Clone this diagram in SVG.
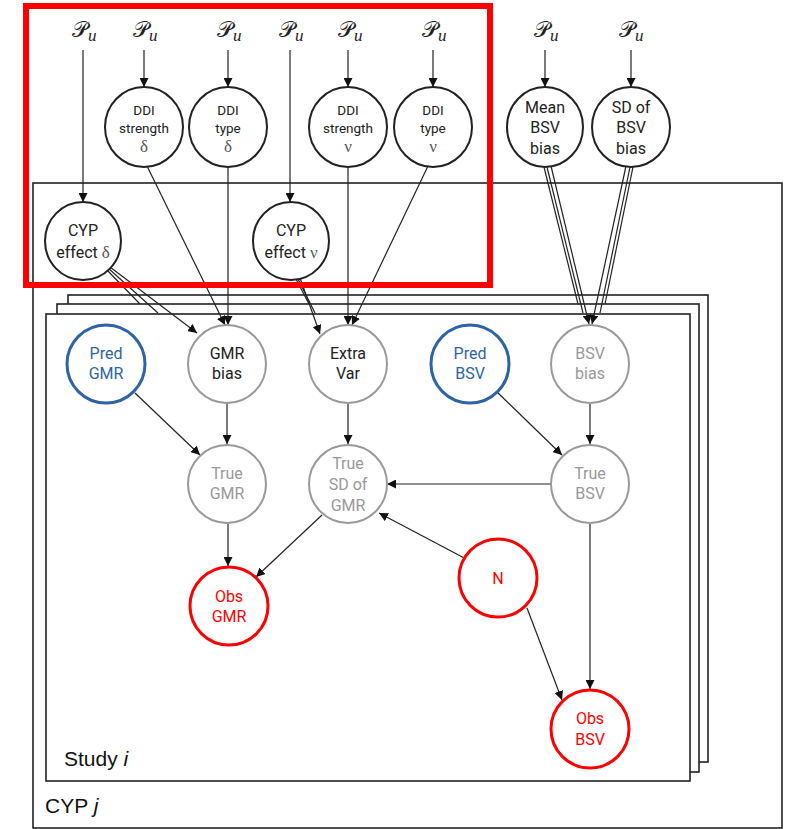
<svg xmlns="http://www.w3.org/2000/svg" width="790" height="829" viewBox="0 0 790 829">
  <defs>
    <marker id="arrow" viewBox="0 0 10 10" refX="10" refY="5" markerWidth="9" markerHeight="9" markerUnits="userSpaceOnUse" orient="auto">
      <path d="M0,0 L10,5 L0,10 z" fill="#111"/>
    </marker>
  </defs>
  <style>
    .plate { fill: #fff; stroke: #222; stroke-width: 1.6; }
    .node { fill: #fff; stroke: #222; stroke-width: 2; }
    .gray { fill: #fff; stroke: #9a9a9a; stroke-width: 2; }
    .blue { fill: #fff; stroke: #2e64a4; stroke-width: 3; }
    .red { fill: #fff; stroke: #ff0000; stroke-width: 3; }
    .lbl { font-family: Roboto, "Liberation Sans", sans-serif; font-size: 16px; text-anchor: middle; fill: #222; }
    .small { font-size: 13.5px; }
    .greek { font-family: "Liberation Serif", "DejaVu Serif", serif; font-size: 17px; fill: #555; }
    .tg { fill: #999; }
    .tb { fill: #2e64a4; }
    .tr { fill: #ff0000; }
    .pu { font-family: "DejaVu Serif", "Liberation Serif", serif; font-size: 22px; fill: #222; }
    .sub { font-family: "Liberation Serif", serif; font-style: italic; font-size: 17px; }
    .edge { stroke: #222; stroke-width: 1.2; fill: none; }
    .arr { marker-end: url(#arrow); }
    .plabel { font-family: "Liberation Sans", Arial, sans-serif; font-size: 21px; fill: #111; }
  </style>

  <!-- CYP plate -->
  <rect class="plate" x="33" y="183" width="749" height="645"/>
  <!-- stacked study plates (back to front) -->
  <rect class="plate" x="68" y="295" width="640" height="467"/>
  <rect class="plate" x="57" y="304" width="642" height="468"/>
  <rect class="plate" x="46" y="314" width="644" height="467"/>
  <text class="plabel" x="64" y="766">Study <tspan font-style="italic">i</tspan></text>
  <text class="plabel" x="45" y="813">CYP <tspan font-style="italic">j</tspan></text>

  <!-- connectors -->
  <g id="connectors">
    <!-- priors -->
    <line class="edge arr" x1="83" y1="50" x2="83" y2="202"/>
    <line class="edge arr" x1="144" y1="50" x2="144" y2="87"/>
    <line class="edge arr" x1="228" y1="50" x2="228" y2="87"/>
    <line class="edge arr" x1="290" y1="50" x2="290" y2="202"/>
    <line class="edge arr" x1="348" y1="50" x2="348" y2="87"/>
    <line class="edge arr" x1="433" y1="50" x2="433" y2="87"/>
    <line class="edge arr" x1="545" y1="50" x2="545" y2="87"/>
    <line class="edge arr" x1="631" y1="50" x2="631" y2="87"/>
    <!-- DDI nodes into plate -->
    <line class="edge arr" x1="147" y1="166" x2="225" y2="325"/>
    <line class="edge arr" x1="228" y1="167" x2="228" y2="325"/>
    <line class="edge arr" x1="348" y1="167" x2="348" y2="325"/>
    <line class="edge arr" x1="428" y1="166" x2="352" y2="325"/>
    <!-- CYP effect delta, one line per study copy -->
    <line class="edge" x1="106" y1="269" x2="140" y2="304"/>
    <line class="edge" x1="108" y1="268" x2="158" y2="313"/>
    <line class="edge arr" x1="110" y1="267" x2="197" y2="333"/>
    <!-- CYP effect nu -->
    <line class="edge" x1="296" y1="279" x2="309" y2="304"/>
    <line class="edge" x1="298" y1="279" x2="315" y2="313"/>
    <line class="edge arr" x1="300" y1="278" x2="320" y2="334"/>
    <!-- BSV bias hyperparameters -->
    <line class="edge" x1="544" y1="167" x2="578" y2="304"/>
    <line class="edge" x1="547" y1="167" x2="583" y2="313"/>
    <line class="edge arr" x1="551" y1="166" x2="589" y2="324"/>
    <line class="edge" x1="633" y1="167" x2="605" y2="304"/>
    <line class="edge" x1="630" y1="167" x2="600" y2="313"/>
    <line class="edge arr" x1="626" y1="166" x2="592" y2="324"/>
    <!-- within study -->
    <line class="edge arr" x1="135" y1="393" x2="200" y2="455"/>
    <line class="edge arr" x1="227" y1="404" x2="227" y2="444"/>
    <line class="edge arr" x1="348" y1="404" x2="348" y2="444"/>
    <line class="edge arr" x1="497" y1="392" x2="562" y2="455"/>
    <line class="edge arr" x1="590" y1="404" x2="590" y2="444"/>
    <line class="edge arr" x1="551" y1="484" x2="387" y2="484"/>
    <line class="edge arr" x1="468" y1="560" x2="379" y2="513"/>
    <line class="edge arr" x1="322" y1="515" x2="256" y2="577"/>
    <line class="edge arr" x1="228" y1="524" x2="228" y2="566"/>
    <line class="edge arr" x1="527" y1="608" x2="562" y2="700"/>
    <line class="edge arr" x1="590" y1="524" x2="590" y2="689"/>
  </g>

  <!-- prior labels -->
  <g id="priors">
    <text class="pu" x="72" y="37">𝒫<tspan class="sub" dy="4">u</tspan></text>
    <text class="pu" x="133" y="37">𝒫<tspan class="sub" dy="4">u</tspan></text>
    <text class="pu" x="217" y="37">𝒫<tspan class="sub" dy="4">u</tspan></text>
    <text class="pu" x="279" y="37">𝒫<tspan class="sub" dy="4">u</tspan></text>
    <text class="pu" x="338" y="37">𝒫<tspan class="sub" dy="4">u</tspan></text>
    <text class="pu" x="422" y="37">𝒫<tspan class="sub" dy="4">u</tspan></text>
    <text class="pu" x="534" y="37">𝒫<tspan class="sub" dy="4">u</tspan></text>
    <text class="pu" x="619" y="37">𝒫<tspan class="sub" dy="4">u</tspan></text>
  </g>

  <!-- top-level nodes -->
  <g id="ddi-strength-delta">
    <ellipse class="node" cx="144" cy="127" rx="39" ry="40"/>
    <text class="lbl small" x="144" y="115">DDI</text>
    <text class="lbl small" x="144" y="133">strength</text>
    <text class="lbl greek" x="144" y="152">δ</text>
  </g>
  <g id="ddi-type-delta">
    <ellipse class="node" cx="228" cy="127" rx="39" ry="40"/>
    <text class="lbl small" x="228" y="115">DDI</text>
    <text class="lbl small" x="228" y="133">type</text>
    <text class="lbl greek" x="228" y="152">δ</text>
  </g>
  <g id="ddi-strength-nu">
    <ellipse class="node" cx="348" cy="127" rx="39" ry="40"/>
    <text class="lbl small" x="348" y="115">DDI</text>
    <text class="lbl small" x="348" y="133">strength</text>
    <text class="lbl greek" x="348" y="152">ν</text>
  </g>
  <g id="ddi-type-nu">
    <ellipse class="node" cx="433" cy="127" rx="39" ry="40"/>
    <text class="lbl small" x="433" y="115">DDI</text>
    <text class="lbl small" x="433" y="133">type</text>
    <text class="lbl greek" x="433" y="152">ν</text>
  </g>
  <g id="mean-bsv-bias">
    <ellipse class="node" cx="545" cy="127" rx="38" ry="40"/>
    <text class="lbl" x="545" y="113">Mean</text>
    <text class="lbl" x="545" y="133">BSV</text>
    <text class="lbl" x="545" y="154">bias</text>
  </g>
  <g id="sd-bsv-bias">
    <ellipse class="node" cx="631" cy="127" rx="39" ry="40"/>
    <text class="lbl" x="631" y="113">SD of</text>
    <text class="lbl" x="631" y="133">BSV</text>
    <text class="lbl" x="631" y="154">bias</text>
  </g>
  <g id="cyp-effect-delta">
    <ellipse class="node" cx="83" cy="241" rx="38" ry="39"/>
    <text class="lbl" x="83" y="236">CYP</text>
    <text class="lbl" x="83" y="258">effect <tspan class="greek" font-size="19px" fill="#222">δ</tspan></text>
  </g>
  <g id="cyp-effect-nu">
    <ellipse class="node" cx="291" cy="241" rx="38" ry="39"/>
    <text class="lbl" x="291" y="236">CYP</text>
    <text class="lbl" x="291" y="258">effect <tspan class="greek" font-size="19px" fill="#222">ν</tspan></text>
  </g>

  <!-- study-level nodes -->
  <g id="pred-gmr">
    <ellipse class="blue" cx="106" cy="364" rx="39" ry="39"/>
    <text class="lbl tb" x="106" y="359">Pred</text>
    <text class="lbl tb" x="106" y="379">GMR</text>
  </g>
  <g id="gmr-bias">
    <ellipse class="gray" cx="227" cy="364" rx="39" ry="39"/>
    <text class="lbl" x="227" y="359">GMR</text>
    <text class="lbl" x="227" y="379">bias</text>
  </g>
  <g id="extra-var">
    <ellipse class="gray" cx="348" cy="364" rx="39" ry="39"/>
    <text class="lbl" x="348" y="359">Extra</text>
    <text class="lbl" x="348" y="379">Var</text>
  </g>
  <g id="pred-bsv">
    <ellipse class="blue" cx="470" cy="364" rx="39" ry="39"/>
    <text class="lbl tb" x="470" y="359">Pred</text>
    <text class="lbl tb" x="470" y="379">BSV</text>
  </g>
  <g id="bsv-bias">
    <ellipse class="gray" cx="590" cy="364" rx="39" ry="39"/>
    <text class="lbl tg" x="590" y="359">BSV</text>
    <text class="lbl tg" x="590" y="379">bias</text>
  </g>
  <g id="true-gmr">
    <ellipse class="gray" cx="227" cy="484" rx="39" ry="39"/>
    <text class="lbl tg" x="227" y="479">True</text>
    <text class="lbl tg" x="227" y="499">GMR</text>
  </g>
  <g id="true-sd-gmr">
    <ellipse class="gray" cx="348" cy="484" rx="39" ry="39"/>
    <text class="lbl tg" x="348" y="469">True</text>
    <text class="lbl tg" x="348" y="490">SD of</text>
    <text class="lbl tg" x="348" y="511">GMR</text>
  </g>
  <g id="true-bsv">
    <ellipse class="gray" cx="590" cy="484" rx="39" ry="39"/>
    <text class="lbl tg" x="590" y="479">True</text>
    <text class="lbl tg" x="590" y="499">BSV</text>
  </g>
  <g id="obs-gmr">
    <ellipse class="red" cx="229" cy="606" rx="39" ry="39"/>
    <text class="lbl tr" x="229" y="602">Obs</text>
    <text class="lbl tr" x="229" y="622">GMR</text>
  </g>
  <g id="n">
    <ellipse class="red" cx="498" cy="578" rx="39" ry="39"/>
    <text class="lbl tr" x="498" y="584">N</text>
  </g>
  <g id="obs-bsv">
    <ellipse class="red" cx="590" cy="729" rx="39" ry="39"/>
    <text class="lbl tr" x="590" y="724">Obs</text>
    <text class="lbl tr" x="590" y="745">BSV</text>
  </g>

  <!-- highlight frame -->
  <rect x="26" y="6" width="464" height="279" fill="none" stroke="#ff0000" stroke-width="6"/>
</svg>
